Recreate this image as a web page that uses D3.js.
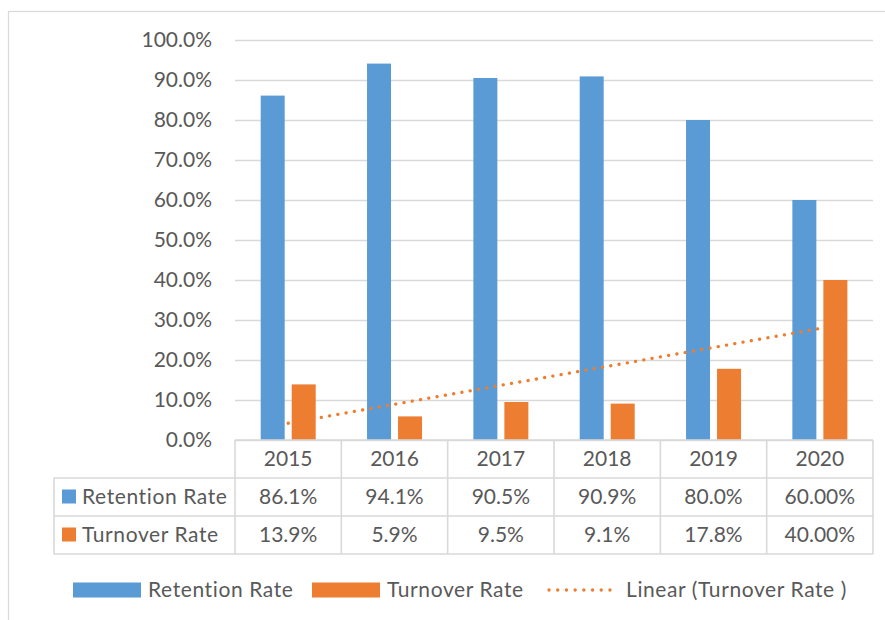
<!DOCTYPE html>
<html>
<head>
<meta charset="utf-8">
<script src="https://cdn.jsdelivr.net/npm/d3@7"></script>
<style>
  body { margin: 0; background: #fff; }
  svg { display: block; }
  text { font-family: Lato, "Open Sans", sans-serif; fill: #595959; }
  .grid line { stroke: #d9d9d9; stroke-width: 1.5; }
  .grid .domain { display: none; }
  .word { letter-spacing: 0.6px; }
</style>
</head>
<body>
<div id="chart"></div>
<script>
// values
var years = ["2015", "2016", "2017", "2018", "2019", "2020"];
var retention = [86.1, 94.1, 90.5, 90.9, 80.0, 60.0];
var turnover = [13.9, 5.9, 9.5, 9.1, 17.8, 40.0];
var retentionLabels = ["86.1%", "94.1%", "90.5%", "90.9%", "80.0%", "60.00%"];
var turnoverLabels = ["13.9%", "5.9%", "9.5%", "9.1%", "17.8%", "40.00%"];
var yTicks = [0, 10, 20, 30, 40, 50, 60, 70, 80, 90, 100];
var seriesNames = ["Retention Rate", "Turnover Rate"];

var blue = "#5b9bd5", orange = "#ed7d31", lineCol = "#d9d9d9";
var fs = "21px";

var W = 885, H = 620;
var plot = {left: 235, right: 873, top: 40, bottom: 440};
var rowH = 38, tableLeft = 54;

var svg = d3.select("#chart").append("svg")
    .attr("width", W)
    .attr("height", H);

// chart area border (runs off the page on the right and bottom)
svg.append("rect")
   .attr("x", 8.5).attr("y", 11.5)
   .attr("width", 1000).attr("height", 1000)
   .attr("fill", "none")
   .attr("stroke", lineCol)
   .attr("stroke-width", 1.2);

var x = d3.scaleBand().domain(years).range([plot.left, plot.right]).padding(0);
var xInner = d3.scaleBand().domain(seriesNames)
    .range([25.7, 80.7]).paddingInner(0.226);
var y = d3.scaleLinear().domain([0, 100]).range([plot.bottom, plot.top]);

// gridlines + tick labels
var yAxis = svg.append("g")
   .attr("class", "grid")
   .attr("transform", "translate(" + plot.left + ",0)")
   .call(d3.axisLeft(y)
      .tickValues(yTicks)
      .tickSize(-(plot.right - plot.left))
      .tickPadding(23)
      .tickFormat(function(d) { return d.toFixed(1) + "%"; }));
yAxis.selectAll("text")
   .attr("fill", "#595959")
   .style("font-size", fs)
   .style("font-family", "Lato, 'Open Sans', sans-serif");

// bars
var groups = svg.selectAll(".year")
   .data(years)
   .enter().append("g")
   .attr("transform", function(d) { return "translate(" + x(d) + ",0)"; });

groups.append("rect")
   .attr("x", xInner("Retention Rate"))
   .attr("width", xInner.bandwidth())
   .attr("y", function(d, i) { return y(retention[i]); })
   .attr("height", function(d, i) { return y(0) - y(retention[i]); })
   .attr("fill", blue);

groups.append("rect")
   .attr("x", xInner("Turnover Rate"))
   .attr("width", xInner.bandwidth())
   .attr("y", function(d, i) { return y(turnover[i]); })
   .attr("height", function(d, i) { return y(0) - y(turnover[i]); })
   .attr("fill", orange);

// linear trendline of turnover (least squares over category index)
var n = turnover.length;
var mx = d3.mean(turnover, function(d, i) { return i + 1; });
var my = d3.mean(turnover);
var sxy = d3.sum(turnover, function(d, i) { return (i + 1 - mx) * (d - my); });
var sxx = d3.sum(turnover, function(d, i) { return (i + 1 - mx) * (i + 1 - mx); });
var slope = sxy / sxx, icpt = my - slope * mx;
var trend = years.map(function(d, i) { return {year: d, v: icpt + slope * (i + 1)}; });

var trendLine = d3.line()
    .x(function(d) { return x(d.year) + x.bandwidth() / 2; })
    .y(function(d) { return y(d.v); });

svg.append("path")
   .attr("d", trendLine([trend[0], trend[n - 1]]))
   .attr("fill", "none")
   .attr("stroke", orange)
   .attr("stroke-width", 3.3)
   .attr("stroke-linecap", "round")
   .attr("stroke-dasharray", "0.1 8.3");

// data table
var t = svg.append("g");
function hline(x1, x2, yy) {
  t.append("line").attr("x1", x1).attr("x2", x2).attr("y1", yy).attr("y2", yy)
   .attr("stroke", lineCol).attr("stroke-width", 1.6);
}
function vline(xx, y1, y2) {
  t.append("line").attr("x1", xx).attr("x2", xx).attr("y1", y1).attr("y2", y2)
   .attr("stroke", lineCol).attr("stroke-width", 1.6);
}
hline(plot.left, plot.right, plot.bottom);
for (var r = 1; r <= 3; r++) hline(tableLeft, plot.right, plot.bottom + r * rowH);
years.forEach(function(d) { vline(x(d), plot.bottom, plot.bottom + 3 * rowH); });
vline(plot.right, plot.bottom, plot.bottom + 3 * rowH);
vline(tableLeft, plot.bottom + rowH, plot.bottom + 3 * rowH);

var rows = [years, retentionLabels, turnoverLabels];
rows.forEach(function(row, r) {
  t.selectAll(".row" + r)
   .data(row)
   .enter().append("text")
   .attr("x", function(d, i) { return x(years[i]) + x.bandwidth() / 2; })
   .attr("y", plot.bottom + r * rowH + rowH / 2)
   .attr("dy", "0.35em")
   .attr("text-anchor", "middle")
   .style("font-size", fs)
   .text(function(d) { return d; });
});

[blue, orange].forEach(function(c, k) {
  var cy = plot.bottom + (k + 1) * rowH + rowH / 2;
  t.append("rect").attr("x", 62).attr("y", cy - 7.5)
   .attr("width", 14).attr("height", 14).attr("fill", c);
  t.append("text").attr("class", "word").attr("x", 82).attr("y", cy).attr("dy", "0.35em")
   .style("font-size", fs).text(seriesNames[k]);
});

// legend
var ly = 590;
var legend = svg.append("g");
legend.append("rect").attr("x", 73).attr("y", ly - 7.5)
   .attr("width", 68).attr("height", 15).attr("fill", blue);
legend.append("text").attr("class", "word").attr("x", 148).attr("y", ly).attr("dy", "0.35em")
   .style("font-size", fs).text("Retention Rate");
legend.append("rect").attr("x", 312).attr("y", ly - 7.5)
   .attr("width", 68).attr("height", 15).attr("fill", orange);
legend.append("text").attr("class", "word").attr("x", 387).attr("y", ly).attr("dy", "0.35em")
   .style("font-size", fs).text("Turnover Rate");
legend.append("line").attr("x1", 549).attr("x2", 618).attr("y1", ly).attr("y2", ly)
   .attr("stroke", orange).attr("stroke-width", 3.3)
   .attr("stroke-linecap", "round").attr("stroke-dasharray", "0.1 8.6");
legend.append("text").attr("class", "word").attr("x", 626).attr("y", ly).attr("dy", "0.35em")
   .style("font-size", fs).text("Linear (Turnover Rate )");
</script>
</body>
</html>
